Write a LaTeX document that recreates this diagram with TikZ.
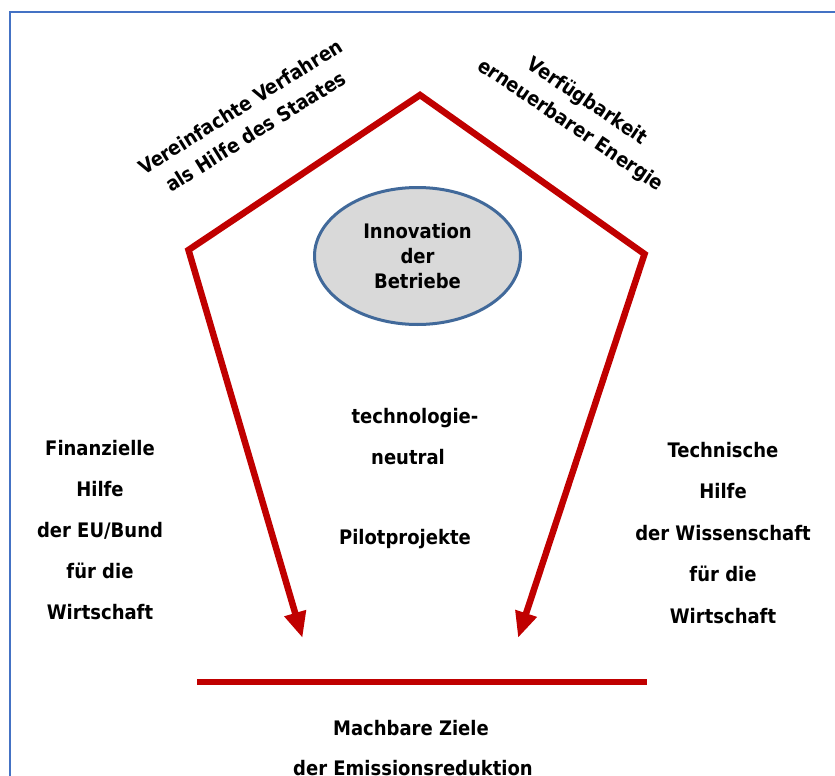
\documentclass[tikz,border=0pt]{standalone}
\usepackage{fontspec}
\setmainfont{DejaVu Sans Condensed}
\usetikzlibrary{arrows.meta,shapes.geometric}

\definecolor{framblue}{HTML}{4472C4}
\definecolor{pentared}{HTML}{C00000}
\definecolor{ovalfill}{HTML}{D9D9D9}
\definecolor{ovaledge}{HTML}{41699A}

\begin{document}
\begin{tikzpicture}[x=1pt,y=-1pt,
  txt/.style={font={\fontsize{20}{41}\selectfont\bfseries}, align=center, inner sep=0pt},
  sidetxt/.style={txt, font={\fontsize{20}{41.5}\selectfont\bfseries}},
  slanttxt/.style={txt, font={\fontsize{20}{29}\selectfont\bfseries}},
  ovaltxt/.style={txt, font={\fontsize{20}{25}\selectfont\bfseries}},
  redline/.style={draw=pentared, line width=6.5pt},
  redtip/.tip={Triangle[length=26pt,width=21pt]},
  oval/.style={ellipse, draw=ovaledge, line width=3pt, fill=ovalfill,
    minimum width=206pt, minimum height=137pt, inner sep=0pt}
]
\useasboundingbox (0,0) rectangle (835,776);

% outer frame (only left and top edges fall on the page)
\draw[framblue, line width=2pt] (9.6,776) -- (9.6,12) -- (835,12);

% pentagon corners and arrow ends
\coordinate (apex) at (420,95);
\coordinate (lc) at (188.5,250);
\coordinate (rc) at (644.5,254);
\coordinate (la) at (302.5,638);
\coordinate (ra) at (518,638);
\coordinate (bl) at (197,682);
\coordinate (br) at (647,682);

\draw[redline, redtip-redtip] (la) -- (lc) -- (apex) -- (rc) -- (ra);
\draw[redline] (bl) -- (br);

% centre oval
\node[oval, ovaltxt] (innov) at (417.5,256) {Innovation\\der\\Betriebe};

% slanted labels along the roof
\node[slanttxt, rotate=32] (verf) at (248,119)
  {Vereinfachte Verfahren\\als Hilfe des Staates};
\node[slanttxt, rotate=-34] (energie) at (578.5,113.5)
  {Verfügbarkeit\\erneuerbarer Energie};

% side labels
\node[txt] (fin) at (100,530.4)
  {Finanzielle\\Hilfe\\der EU/Bund\\für die\\Wirtschaft};
\node[sidetxt] (tech) at (723,533)
  {Technische\\Hilfe\\der Wissenschaft\\für die\\Wirtschaft};

% inner labels
\node[txt, anchor=base] (techno) at (415,423) {technologie-};
\node[txt, anchor=base] (neutral) at (408,464) {neutral};
\node[txt, anchor=base] (pilot) at (405,544) {Pilotprojekte};

% goal below the base line
\node[txt, anchor=base] (ziele) at (411,735) {Machbare Ziele};
\node[txt, anchor=base] (emis) at (413,775) {der Emissionsreduktion};
\end{tikzpicture}
\end{document}
